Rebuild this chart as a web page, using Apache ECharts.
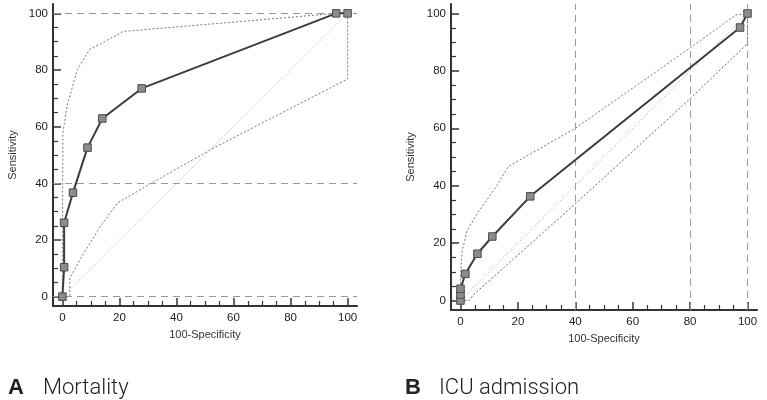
<!DOCTYPE html>
<html>
<head>
<meta charset="utf-8">
<script src="https://cdn.jsdelivr.net/npm/echarts@6/dist/echarts.min.js"></script>
<style>
  html, body { margin: 0; padding: 0; background: #fff; }
  #chart { width: 767px; height: 400px; }
</style>
</head>
<body>
<div id="chart"></div>
<script>
// panel A - mortality
var mortX = [0, 0.6, 0.6, 3.7, 8.8, 14.0, 27.8, 96.0, 100];
var mortY = [0, 10.4, 26.1, 36.7, 52.6, 62.9, 73.5, 100, 100];
var mortUpX = [0, 0, 0.2, 1.6, 5.2, 9.6, 13.9, 21.3, 96, 100];
var mortUpY = [0, 26, 58, 67.2, 80.1, 87.4, 89.5, 93.6, 100, 100];
var mortLoX = [0, 2.6, 2.6, 7.5, 13.3, 19.4, 30.9, 53.8, 100, 100];
var mortLoY = [0, 0, 6.6, 15.4, 24.8, 33.1, 39.9, 52.9, 76.8, 100];

// panel B - ICU admission
var icuX = [0, 0, 0, 1.7, 5.9, 11.1, 24.3, 97.4, 100];
var icuY = [0, 2.1, 4.1, 9.3, 16.3, 22.3, 36.3, 95.1, 100];
var icuUpX = [0, 0, 0.5, 2.3, 5.8, 12.7, 16.7, 40, 80, 96, 100];
var icuUpY = [0, 8, 16.8, 24.4, 30.2, 40.1, 46.7, 60, 88, 99.5, 100];
var icuLoX = [0, 3, 4.5, 40, 80, 100, 100];
var icuLoY = [0, 0, 2, 33.7, 70.3, 89.5, 100];

var diagX = [0, 100];
var diagY = [0, 100];

var majorTicks = [0, 20, 40, 60, 80, 100];
var minorTicks = [5, 10, 15, 25, 30, 35, 45, 50, 55, 65, 70, 75, 85, 90, 95];
var mortRefY = [0, 40, 100];
var icuRefX = [40, 80, 100];

var AX_MIN = -3.3, AX_MAX = 103.3;

function pairs(xs, ys) {
    var out = [];
    for (var i = 0; i < xs.length; i++) out.push([xs[i], ys[i]]);
    return out;
}

var fontFam = 'Liberation Sans, Arial, sans-serif';

function mainAxis(type, grid) {
    var isX = type === 'x';
    return {
        type: 'value', gridIndex: grid, min: AX_MIN, max: AX_MAX,
        position: isX ? 'bottom' : 'left',
        name: isX ? '100-Specificity' : 'Sensitivity',
        nameLocation: 'middle',
        nameGap: isX ? 23 : 35,
        nameTextStyle: { fontSize: 11, color: '#333', fontFamily: fontFam },
        axisLine: { show: true, onZero: false, lineStyle: { color: '#333', width: 2 } },
        axisTick: { show: true, inside: true, length: 8, customValues: majorTicks,
                    lineStyle: { color: '#333', width: 1.5 } },
        axisLabel: { customValues: majorTicks, margin: isX ? 6 : 5,
                     fontSize: 11.5, color: '#222', fontFamily: fontFam },
        splitLine: { show: false }
    };
}

function minorAxis(type, grid) {
    var isX = type === 'x';
    return {
        type: 'value', gridIndex: grid, min: AX_MIN, max: AX_MAX,
        position: isX ? 'bottom' : 'left',
        axisLine: { show: false, onZero: false },
        axisTick: { show: true, inside: true, length: 5, customValues: minorTicks,
                    lineStyle: { color: '#333', width: 1.2 } },
        axisLabel: { show: false },
        splitLine: { show: false }
    };
}

function ciSeries(ax, xs, ys, color) {
    return {
        type: 'line', xAxisIndex: ax, yAxisIndex: ax,
        data: pairs(xs, ys), symbol: 'none', silent: true,
        lineStyle: { color: color, width: 1, type: [2, 2] }, z: 2
    };
}

function rocSeries(ax, xs, ys) {
    return {
        type: 'line', xAxisIndex: ax, yAxisIndex: ax,
        data: pairs(xs, ys), symbol: 'rect', symbolSize: 7.5,
        showAllSymbol: true,
        itemStyle: { color: '#8c8c8c', borderColor: '#4a4a4a', borderWidth: 1 },
        lineStyle: { color: '#3c3c3c', width: 2 }, z: 5
    };
}

var refStyle = { color: '#999', width: 1, type: [7, 5] };

var option = {
    animation: false,
    backgroundColor: '#fff',
    grid: [
        { left: 53, top: 4, width: 304, height: 302 },
        { left: 451, top: 4, width: 306, height: 306 }
    ],
    xAxis: [mainAxis('x', 0), minorAxis('x', 0), mainAxis('x', 1), minorAxis('x', 1)],
    yAxis: [mainAxis('y', 0), minorAxis('y', 0), mainAxis('y', 1), minorAxis('y', 1)],
    graphic: [
        { type: 'text', left: 8, top: 377, style: { text: 'A', fontSize: 22, fontWeight: 'bold', fontFamily: fontFam, fill: '#222' } },
        { type: 'text', left: 43, top: 377, style: { text: 'Mortality', fontSize: 22, fontWeight: 300, fontFamily: 'Roboto, Liberation Sans, sans-serif', fill: '#222' } },
        { type: 'text', left: 405, top: 377, style: { text: 'B', fontSize: 22, fontWeight: 'bold', fontFamily: fontFam, fill: '#222' } },
        { type: 'text', left: 439, top: 377, style: { text: 'ICU admission', fontSize: 22, fontWeight: 300, fontFamily: 'Roboto, Liberation Sans, sans-serif', fill: '#222' } }
    ],
    series: [
        // A
        {
            type: 'line', xAxisIndex: 0, yAxisIndex: 0, data: pairs(diagX, diagY),
            symbol: 'none', silent: true, z: 1,
            lineStyle: { color: '#aaa', width: 1, type: [1, 2] },
            markLine: {
                silent: true, symbol: 'none', label: { show: false },
                lineStyle: refStyle,
                data: mortRefY.map(function (v) { return { yAxis: v }; })
            }
        },
        ciSeries(0, mortUpX, mortUpY, '#777'),
        ciSeries(0, mortLoX, mortLoY, '#777'),
        rocSeries(0, mortX, mortY),
        // B
        {
            type: 'line', xAxisIndex: 2, yAxisIndex: 2, data: pairs(diagX, diagY),
            symbol: 'none', silent: true, z: 1,
            lineStyle: { color: '#aaa', width: 1, type: [1, 2] },
            markLine: {
                silent: true, symbol: 'none', label: { show: false },
                lineStyle: refStyle,
                data: icuRefX.map(function (v) { return { xAxis: v }; })
            }
        },
        ciSeries(2, icuUpX, icuUpY, '#777'),
        ciSeries(2, icuLoX, icuLoY, '#666'),
        rocSeries(2, icuX, icuY)
    ]
};

var chart = echarts.init(document.getElementById('chart'));
chart.setOption(option);
</script>
</body>
</html>
